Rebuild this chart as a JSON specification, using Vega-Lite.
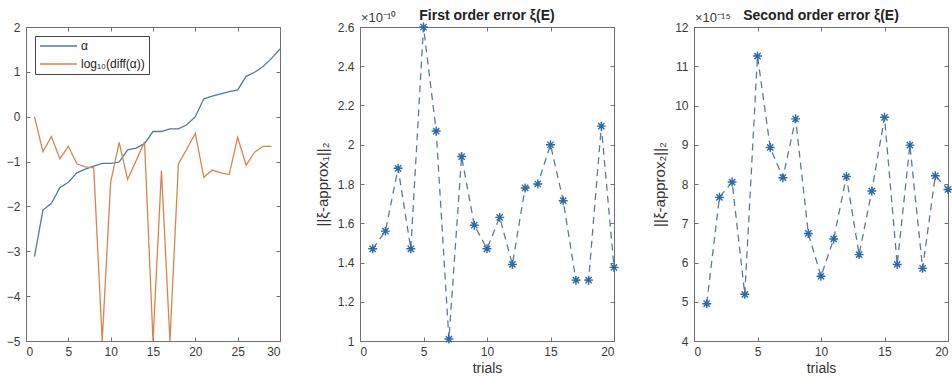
{
  "$schema": "https://vega.github.io/schema/vega-lite/v6.json",
  "padding": {"left": 5, "top": 8, "right": 0, "bottom": 0},
  "bounds": "flush",
  "spacing": 80,
  "config": {
    "view": {"stroke": "#707070", "strokeWidth": 1},
    "axis": {"domain": false, "grid": false, "tickColor": "#707070", "tickSize": -4, "labelFont": "Liberation Sans", "labelFontSize": 12, "labelColor": "#3a3a3a", "titleFont": "Liberation Sans", "titleFontWeight": "normal", "titleFontSize": 14, "titleColor": "#333333"},
    "axisX": {"labelPadding": 9, "titlePadding": 4},
    "axisY": {"labelPadding": 10, "titlePadding": 7, "titleFontSize": 15},
    "title": {"font": "Liberation Sans", "fontSize": 14, "fontWeight": "bold", "color": "#222222", "offset": -11},
    "legend": {"labelFont": "Liberation Sans", "labelFontSize": 12, "labelColor": "#222222"}
  },
  "hconcat": [
    {
      "width": 254, "height": 314,
      "data": {"values": [
        {"x": 1, "v": -3.12, "s": "α"}, {"x": 2, "v": -2.08, "s": "α"}, {"x": 3, "v": -1.93, "s": "α"}, {"x": 4, "v": -1.58, "s": "α"}, {"x": 5, "v": -1.46, "s": "α"},
        {"x": 6, "v": -1.25, "s": "α"}, {"x": 7, "v": -1.17, "s": "α"}, {"x": 8, "v": -1.10, "s": "α"}, {"x": 9, "v": -1.04, "s": "α"}, {"x": 10, "v": -1.04, "s": "α"},
        {"x": 11, "v": -1.01, "s": "α"}, {"x": 12, "v": -0.74, "s": "α"}, {"x": 13, "v": -0.70, "s": "α"}, {"x": 14, "v": -0.60, "s": "α"}, {"x": 15, "v": -0.33, "s": "α"},
        {"x": 16, "v": -0.33, "s": "α"}, {"x": 17, "v": -0.27, "s": "α"}, {"x": 18, "v": -0.27, "s": "α"}, {"x": 19, "v": -0.18, "s": "α"}, {"x": 20, "v": 0.0, "s": "α"},
        {"x": 21, "v": 0.40, "s": "α"}, {"x": 22, "v": 0.46, "s": "α"}, {"x": 23, "v": 0.51, "s": "α"}, {"x": 24, "v": 0.56, "s": "α"}, {"x": 25, "v": 0.60, "s": "α"},
        {"x": 26, "v": 0.90, "s": "α"}, {"x": 27, "v": 0.99, "s": "α"}, {"x": 28, "v": 1.12, "s": "α"}, {"x": 29, "v": 1.30, "s": "α"}, {"x": 30, "v": 1.51, "s": "α"},
        {"x": 1, "v": 0.0, "s": "log₁₀(diff(α))"}, {"x": 2, "v": -0.78, "s": "log₁₀(diff(α))"}, {"x": 3, "v": -0.44, "s": "log₁₀(diff(α))"}, {"x": 4, "v": -0.94, "s": "log₁₀(diff(α))"},
        {"x": 5, "v": -0.66, "s": "log₁₀(diff(α))"}, {"x": 6, "v": -1.05, "s": "log₁₀(diff(α))"}, {"x": 7, "v": -1.12, "s": "log₁₀(diff(α))"}, {"x": 8, "v": -1.14, "s": "log₁₀(diff(α))"},
        {"x": 9, "v": -5, "s": "log₁₀(diff(α))"}, {"x": 10, "v": -1.46, "s": "log₁₀(diff(α))"}, {"x": 11, "v": -0.57, "s": "log₁₀(diff(α))"}, {"x": 12, "v": -1.40, "s": "log₁₀(diff(α))"},
        {"x": 13, "v": -0.98, "s": "log₁₀(diff(α))"}, {"x": 14, "v": -0.56, "s": "log₁₀(diff(α))"}, {"x": 15, "v": -5, "s": "log₁₀(diff(α))"}, {"x": 16, "v": -1.20, "s": "log₁₀(diff(α))"},
        {"x": 17, "v": -5, "s": "log₁₀(diff(α))"}, {"x": 18, "v": -1.05, "s": "log₁₀(diff(α))"}, {"x": 19, "v": -0.72, "s": "log₁₀(diff(α))"}, {"x": 20, "v": -0.37, "s": "log₁₀(diff(α))"},
        {"x": 21, "v": -1.35, "s": "log₁₀(diff(α))"}, {"x": 22, "v": -1.19, "s": "log₁₀(diff(α))"}, {"x": 23, "v": -1.25, "s": "log₁₀(diff(α))"}, {"x": 24, "v": -1.29, "s": "log₁₀(diff(α))"},
        {"x": 25, "v": -0.46, "s": "log₁₀(diff(α))"}, {"x": 26, "v": -1.08, "s": "log₁₀(diff(α))"}, {"x": 27, "v": -0.79, "s": "log₁₀(diff(α))"}, {"x": 28, "v": -0.66, "s": "log₁₀(diff(α))"},
        {"x": 29, "v": -0.66, "s": "log₁₀(diff(α))"}
      ]},
      "layer": [
        {
          "mark": {"type": "line", "strokeWidth": 1.3},
          "encoding": {
            "x": {"field": "x", "type": "quantitative", "scale": {"domain": [0, 30], "nice": false}, "axis": {"values": [0, 5, 10, 15, 20, 25, 30], "title": null}},
            "y": {"field": "v", "type": "quantitative", "scale": {"domain": [-5, 2], "nice": false}, "axis": {"values": [-5, -4, -3, -2, -1, 0, 1, 2], "title": null}},
            "color": {"field": "s", "type": "nominal", "sort": ["α", "log₁₀(diff(α))"], "scale": {"domain": ["α", "log₁₀(diff(α))"], "range": ["#4f7aa6", "#d9844e"]},
              "legend": {"title": null, "orient": "top-left", "offset": 9, "strokeColor": "#444444", "fillColor": "#ffffff", "padding": 4, "symbolType": "M-1,0L6.4,0", "symbolSize": 100, "symbolStrokeWidth": 1.5, "rowPadding": 6, "labelOffset": 30}}
          }
        },
        {
          "mark": {"type": "point", "opacity": 0},
          "encoding": {
            "x": {"field": "x", "type": "quantitative", "axis": {"orient": "top", "values": [0, 5, 10, 15, 20, 25, 30], "labels": false, "title": null}},
            "y": {"field": "v", "type": "quantitative", "axis": {"orient": "right", "values": [-5, -4, -3, -2, -1, 0, 1, 2], "labels": false, "title": null}}
          }
        }
      ],
      "resolve": {"axis": {"x": "independent", "y": "independent"}}
    },
    {
      "width": 254, "height": 314,
      "title": {"text": "First order error ξ(E)"},
      "data": {"values": [
        {"trial": 1, "err": 1.47}, {"trial": 2, "err": 1.56}, {"trial": 3, "err": 1.88}, {"trial": 4, "err": 1.47}, {"trial": 5, "err": 2.6},
        {"trial": 6, "err": 2.07}, {"trial": 7, "err": 1.01}, {"trial": 8, "err": 1.94}, {"trial": 9, "err": 1.59}, {"trial": 10, "err": 1.47},
        {"trial": 11, "err": 1.63}, {"trial": 12, "err": 1.39}, {"trial": 13, "err": 1.78}, {"trial": 14, "err": 1.80}, {"trial": 15, "err": 2.0},
        {"trial": 16, "err": 1.715}, {"trial": 17, "err": 1.31}, {"trial": 18, "err": 1.31}, {"trial": 19, "err": 2.095}, {"trial": 20, "err": 1.375}
      ]},
      "layer": [
        {
          "mark": {"type": "line", "strokeWidth": 1.3, "strokeDash": [7, 5], "color": "#5d7a9e"},
          "encoding": {
            "x": {"field": "trial", "type": "quantitative", "scale": {"domain": [0, 20], "nice": false}, "axis": {"values": [0, 5, 10, 15, 20], "title": "trials"}},
            "y": {"field": "err", "type": "quantitative", "scale": {"domain": [1, 2.6], "nice": false}, "axis": {"values": [1, 1.2, 1.4, 1.6, 1.8, 2, 2.2, 2.4, 2.6], "format": "~g", "title": "||ξ-approx₁||₂"}}
          }
        },
        {
          "mark": {"type": "point", "shape": "M0,-1L0,1M-1,0L1,0M-0.7,-0.7L0.7,0.7M-0.7,0.7L0.7,-0.7", "filled": false, "size": 80, "strokeWidth": 1.4, "color": "#2b6aa5", "opacity": 1},
          "encoding": {
            "x": {"field": "trial", "type": "quantitative", "axis": null},
            "y": {"field": "err", "type": "quantitative", "axis": null}
          }
        },
        {
          "data": {"values": [{"trial": 0, "err": 2.6, "label": "×10⁻¹⁰"}]},
          "mark": {"type": "text", "align": "left", "baseline": "bottom", "dy": -2, "dx": 1, "font": "Liberation Sans", "fontSize": 13, "color": "#3a3a3a"},
          "encoding": {
            "x": {"field": "trial", "type": "quantitative", "axis": {"orient": "top", "values": [0, 5, 10, 15, 20], "labels": false, "title": null}},
            "y": {"field": "err", "type": "quantitative", "axis": {"orient": "right", "values": [1, 1.2, 1.4, 1.6, 1.8, 2, 2.2, 2.4, 2.6], "labels": false, "title": null}},
            "text": {"field": "label"}
          }
        }
      ],
      "resolve": {"axis": {"x": "independent", "y": "independent"}}
    },
    {
      "width": 254, "height": 314,
      "title": {"text": "Second order error ξ(E)"},
      "data": {"values": [
        {"trial": 1, "err": 4.95}, {"trial": 2, "err": 7.66}, {"trial": 3, "err": 8.05}, {"trial": 4, "err": 5.19}, {"trial": 5, "err": 11.26},
        {"trial": 6, "err": 8.93}, {"trial": 7, "err": 8.16}, {"trial": 8, "err": 9.66}, {"trial": 9, "err": 6.74}, {"trial": 10, "err": 5.65},
        {"trial": 11, "err": 6.60}, {"trial": 12, "err": 8.19}, {"trial": 13, "err": 6.20}, {"trial": 14, "err": 7.82}, {"trial": 15, "err": 9.70},
        {"trial": 16, "err": 5.95}, {"trial": 17, "err": 8.99}, {"trial": 18, "err": 5.85}, {"trial": 19, "err": 8.21}, {"trial": 20, "err": 7.86}
      ]},
      "layer": [
        {
          "mark": {"type": "line", "strokeWidth": 1.3, "strokeDash": [7, 5], "color": "#5d7a9e"},
          "encoding": {
            "x": {"field": "trial", "type": "quantitative", "scale": {"domain": [0, 20], "nice": false}, "axis": {"values": [0, 5, 10, 15, 20], "title": "trials"}},
            "y": {"field": "err", "type": "quantitative", "scale": {"domain": [4, 12], "nice": false}, "axis": {"values": [4, 5, 6, 7, 8, 9, 10, 11, 12], "title": "||ξ-approx₂||₂"}}
          }
        },
        {
          "mark": {"type": "point", "shape": "M0,-1L0,1M-1,0L1,0M-0.7,-0.7L0.7,0.7M-0.7,0.7L0.7,-0.7", "filled": false, "size": 80, "strokeWidth": 1.4, "color": "#2b6aa5", "opacity": 1},
          "encoding": {
            "x": {"field": "trial", "type": "quantitative", "axis": null},
            "y": {"field": "err", "type": "quantitative", "axis": null}
          }
        },
        {
          "data": {"values": [{"trial": 0, "err": 12, "label": "×10⁻¹⁵"}]},
          "mark": {"type": "text", "align": "left", "baseline": "bottom", "dy": -2, "dx": 1, "font": "Liberation Sans", "fontSize": 13, "color": "#3a3a3a"},
          "encoding": {
            "x": {"field": "trial", "type": "quantitative", "axis": {"orient": "top", "values": [0, 5, 10, 15, 20], "labels": false, "title": null}},
            "y": {"field": "err", "type": "quantitative", "axis": {"orient": "right", "values": [4, 5, 6, 7, 8, 9, 10, 11, 12], "labels": false, "title": null}},
            "text": {"field": "label"}
          }
        }
      ],
      "resolve": {"axis": {"x": "independent", "y": "independent"}}
    }
  ]
}
